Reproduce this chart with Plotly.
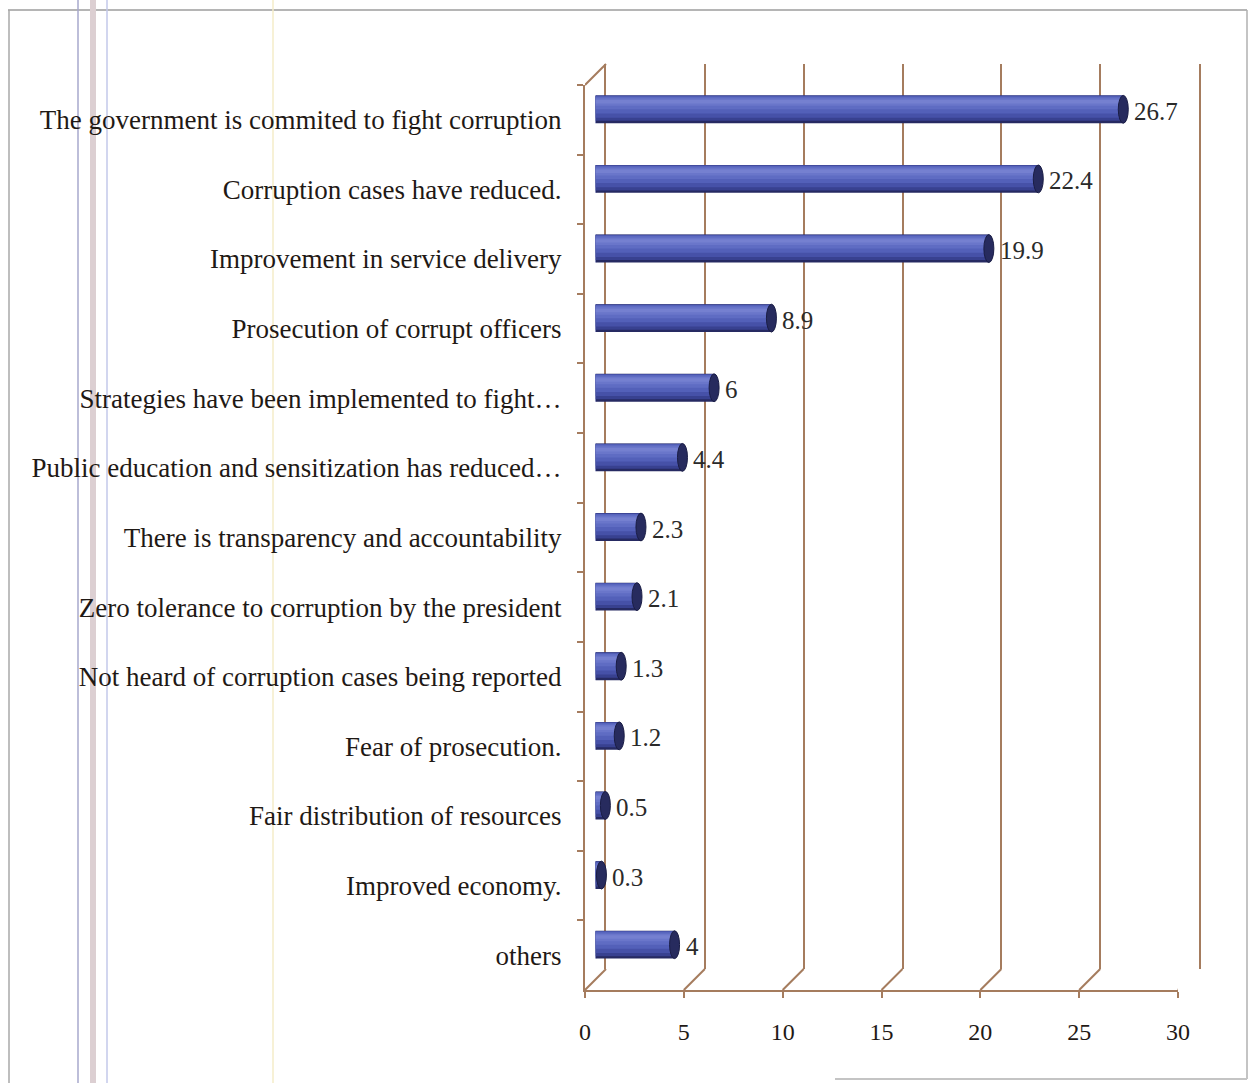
import plotly.graph_objects as go

# Survey responses (percent)
categories = [
    "The government is commited to fight corruption",
    "Corruption cases have reduced.",
    "Improvement in service delivery",
    "Prosecution of corrupt officers",
    "Strategies have been implemented to fight…",
    "Public education and sensitization has reduced…",
    "There is transparency and accountability",
    "Zero tolerance to corruption by the president",
    "Not heard of corruption cases being reported",
    "Fear of prosecution.",
    "Fair distribution of resources",
    "Improved economy.",
    "others",
]
values = [26.7, 22.4, 19.9, 8.9, 6, 4.4, 2.3, 2.1, 1.3, 1.2, 0.5, 0.3, 4]
x_ticks = [0, 5, 10, 15, 20, 25, 30]

W, H = 1250, 1083
FONT = "Liberation Serif"
BROWN = "#a57c5e"
TEXT = "#1f1915"

# horizontal page placement (left inset and usable width, px)
X_INSET, X_SPAN = 6, 1232


def fx(p):
    return (p - X_INSET) / X_SPAN


def fy(p):
    return 1 - p / H


# front plane, wall depth (px) and derived planes
FX0, FX1, FYB, FYT = 585, 1178, 990, 85
DEPTH = 21
n = len(categories)
y_range = [n - 0.5, -0.5]
HALF = 0.2  # half thickness of a cylinder, in category units

fig = go.Figure()

# front plane: category labels and value axis
fig.add_trace(go.Scatter(
    x=values, y=categories, mode="markers", marker=dict(opacity=0),
    hoverinfo="skip", showlegend=False, xaxis="x", yaxis="y"))

# back wall carrying the gridlines
fig.add_trace(go.Scatter(
    x=[0, 30], y=[0, 1], mode="markers", marker=dict(opacity=0),
    hoverinfo="skip", showlegend=False, xaxis="x2", yaxis="y2"))

# cylinders built from stacked bands: (top, bottom, colour) offsets from centre
bands = [
    (-0.200, 0.200, "#262a62"),
    (-0.197, 0.165, "#384190"),
    (-0.193, 0.120, "#4651a8"),
    (-0.188, 0.060, "#5360b9"),
    (-0.175, 0.000, "#5f6cc3"),
    (-0.155, -0.050, "#6a76ca"),
    (-0.135, -0.085, "#7580d0"),
]
for top, bottom, col in bands:
    fig.add_trace(go.Bar(
        x=values, y=categories, orientation="h", width=bottom - top, offset=top,
        marker=dict(color=col, line=dict(width=0)),
        hoverinfo="skip", showlegend=False, xaxis="x3", yaxis="y3"))

shapes = []
# rounded ends of each cylinder
for idx, v in enumerate(values):
    shapes.append(dict(
        type="circle", xref="x3", yref="y3", xsizemode="pixel", xanchor=0,
        x0=-4, x1=4, y0=idx - HALF, y1=idx + HALF,
        fillcolor="#4e5ab3", line=dict(width=0), layer="between"))
    shapes.append(dict(
        type="circle", xref="x3", yref="y3", xsizemode="pixel", xanchor=v,
        x0=-5, x1=5, y0=idx - HALF, y1=idx + HALF,
        fillcolor="#272b5e", line=dict(color="#1a1d45", width=1), layer="above"))

# floor edges joining the front axis to the back wall
for t in x_ticks:
    shapes.append(dict(
        type="line", xref="x", yref="paper", xsizemode="pixel", ysizemode="pixel",
        xanchor=t, yanchor=fy(FYB), x0=0, x1=DEPTH, y0=0, y1=DEPTH,
        line=dict(color=BROWN, width=2)))
# top edge of the side wall
shapes.append(dict(
    type="line", xref="x", yref="paper", xsizemode="pixel", ysizemode="pixel",
    xanchor=0, yanchor=fy(FYT), x0=0, x1=DEPTH, y0=0, y1=DEPTH,
    line=dict(color=BROWN, width=2)))

# page frame and scan lines, kept beneath the text
page_lines = [
    (8, 1247, 10, 10, "#9c9c9c", 1.5),
    (9, 9, 10, H, "#a8a8a8", 1.5),
    (1247, 1247, 10, 1079, "#b0b0b0", 1.5),
    (835, 1247, 1079, 1079, "#c4c4c4", 2),
    (78, 78, 0, H, "#a7a9cc", 1.5),
    (93, 93, 0, H, "#dccfd2", 6),
    (107, 107, 0, H, "#c3c9ea", 1.5),
    (273, 273, 0, H, "#f4ecc8", 1.5),
]
for x0, x1, y0, y1, col, lw in page_lines:
    shapes.append(dict(
        type="line", xref="paper", yref="paper", layer="below",
        x0=fx(x0), x1=fx(x1), y0=fy(y0), y1=fy(y1),
        line=dict(color=col, width=lw)))

# value labels beside each cylinder
annotations = []
for cat, v in zip(categories, values):
    annotations.append(dict(
        x=v, y=cat, xref="x3", yref="y3", text=f"{v:g}", showarrow=False,
        xanchor="left", xshift=9, yshift=-2,
        font=dict(family=FONT, size=25, color="#2a2a2a")))

fig.update_layout(
    width=W, height=H, autosize=False,
    margin=dict(l=0, r=0, t=0, b=0),
    paper_bgcolor="white", plot_bgcolor="rgba(0,0,0,0)",
    barmode="overlay", showlegend=False,
    font=dict(family=FONT, color=TEXT),
    xaxis=dict(
        domain=[fx(FX0), fx(FX1)], range=[0, 30], anchor="y",
        tickvals=x_ticks, ticks="outside", ticklen=6, tickwidth=2, tickcolor=BROWN,
        showline=True, linecolor=BROWN, linewidth=2, showgrid=False, zeroline=False,
        tickfont=dict(family=FONT, size=24, color=TEXT), ticklabelstandoff=13),
    yaxis=dict(
        domain=[fy(FYB), fy(FYT)], type="category", categoryorder="array",
        categoryarray=categories, range=y_range, anchor="x",
        ticks="outside", tickson="boundaries", ticklen=6, tickwidth=2, tickcolor=BROWN,
        showline=True, linecolor=BROWN, linewidth=2, showgrid=False, zeroline=False,
        tickfont=dict(family=FONT, size=27, color=TEXT), ticklabelstandoff=16),
    xaxis2=dict(
        domain=[fx(FX0 + DEPTH), fx(FX1 + DEPTH)], range=[0, 30], anchor="y2",
        tickvals=x_ticks, showticklabels=False, ticks="",
        showgrid=True, gridcolor=BROWN, gridwidth=2, zeroline=False, showline=False),
    yaxis2=dict(
        domain=[fy(FYB - DEPTH), fy(FYT - DEPTH)], range=[0, 1], anchor="x2",
        showticklabels=False, ticks="", showgrid=False, zeroline=False,
        showline=True, mirror=True, linecolor=BROWN, linewidth=2),
    xaxis3=dict(
        domain=[fx(FX0 + DEPTH / 2), fx(FX1 + DEPTH / 2)], range=[0, 30], anchor="y3",
        visible=False),
    yaxis3=dict(
        domain=[fy(FYB - DEPTH / 2), fy(FYT - DEPTH / 2)], type="category",
        categoryorder="array", categoryarray=categories, range=y_range,
        anchor="x3", visible=False),
    shapes=shapes,
    annotations=annotations,
)

# page sized exactly to the figure
page_fit = (
    "document.documentElement.style.margin='0';"
    "document.body.style.margin='0';"
    "document.documentElement.style.overflow='hidden';"
    "document.body.style.overflow='hidden';"
)
fig.write_html("out.html", config={"responsive": False}, post_script=page_fit)
